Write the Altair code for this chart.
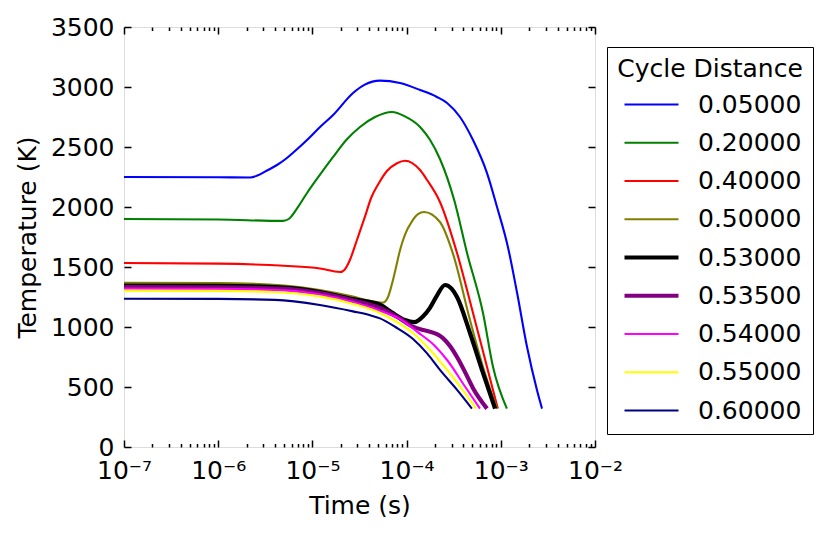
import altair as alt
import pandas as pd

FONT = "DejaVu Sans"

labels = ["0.05000", "0.20000", "0.40000", "0.50000", "0.53000",
          "0.53500", "0.54000", "0.55000", "0.60000"]
colors = ["#0000ff", "#008000", "#ff0000", "#808000", "#000000",
          "#800080", "#ff00ff", "#ffff00", "#000080"]
widths = [2.1, 2.1, 2.1, 2.1, 4.2, 4.2, 2.1, 2.1, 2.1]

# 0.05000
t_a = [1.0e-7, 1.0e-6, 2.2e-6, 2.6e-6, 3.14e-6, 4.21e-6, 5.2e-6, 6.4e-6, 8.77e-6,
       1.205e-5, 1.66e-5, 2.7e-5, 3.6e-5, 5.22e-5, 8.5e-5, 1.39e-4, 2.1e-4, 2.69e-4,
       3.69e-4, 5.07e-4, 7.14e-4, 9.12e-4, 1.19e-3, 1.49e-3, 1.90e-3, 2.42e-3, 2.74e-3]
T_a = [2250, 2248, 2246, 2262, 2295, 2350, 2400, 2460, 2558,
       2667, 2767, 2950, 3020, 3053, 3033, 2975, 2917, 2867,
       2750, 2558, 2283, 2000, 1667, 1283, 833, 475, 320]
# 0.20000
t_b = [1.0e-7, 1.0e-6, 4.88e-6, 5.6e-6, 6.9e-6, 8.77e-6, 1.205e-5, 1.66e-5, 2.3e-5,
       3.2e-5, 4.62e-5, 7.0e-5, 9.6e-5, 1.39e-4, 1.77e-4, 2.26e-4, 3.2e-4, 4.38e-4,
       6.47e-4, 8.26e-4, 1.16e-3]
T_b = [1900, 1896, 1884, 1900, 1990, 2117, 2270, 2417, 2560,
       2667, 2750, 2792, 2755, 2667, 2560, 2400, 2058, 1617,
       1117, 669, 320]
# 0.40000
t_c = [1.0e-7, 1.0e-6, 5.0e-6, 1.2e-5, 1.96e-5, 2.2e-5, 2.5e-5, 2.97e-5, 3.6e-5,
       4.2e-5, 5.0e-5, 6.19e-5, 7.9e-5, 9.6e-5, 1.39e-4, 1.65e-4, 2.26e-4, 3.43e-4,
       5.07e-4, 7.14e-4, 9.3e-4]
T_c = [1533, 1528, 1510, 1488, 1458, 1478, 1558, 1725, 1915,
       2075, 2190, 2300, 2365, 2386, 2308, 2225, 2042, 1617,
       1117, 667, 320]
# 0.50000
t_d = [1.0e-7, 1.0e-6, 5.0e-6, 1.2e-5, 2.7e-5, 4.1e-5, 5.6e-5, 6.35e-5, 7.0e-5,
       7.73e-5, 8.51e-5, 9.62e-5, 1.14e-4, 1.32e-4, 1.53e-4, 2.26e-4, 3.11e-4, 4.71e-4,
       6.47e-4, 9.12e-4]
T_d = [1369, 1367, 1345, 1308, 1253, 1218, 1203, 1250, 1360,
       1500, 1640, 1770, 1880, 1940, 1958, 1875, 1610, 1058,
       667, 320]
# 0.53000
t_e = [1.0e-7, 1.0e-6, 5.0e-6, 1.2e-5, 2.7e-5, 5.22e-5, 7.0e-5, 9.6e-5, 1.2e-4,
       1.5e-4, 1.77e-4, 2.1e-4, 2.56e-4, 3.0e-4, 3.43e-4, 4.71e-4, 6.47e-4, 8.7e-4]
T_e = [1345, 1343, 1328, 1292, 1232, 1185, 1120, 1058, 1040,
       1090, 1160, 1262, 1350, 1320, 1250, 950, 617, 320]
# 0.53500
t_f = [1.0e-7, 1.0e-6, 5.0e-6, 1.2e-5, 2.7e-5, 5.22e-5, 8.5e-5, 1.17e-4, 1.5e-4,
       1.77e-4, 2.1e-4, 2.43e-4, 2.9e-4, 3.43e-4, 4.2e-4, 5.07e-4, 7.14e-4]
T_f = [1333, 1331, 1318, 1283, 1222, 1158, 1070, 1003, 975,
       961, 940, 908, 840, 750, 620, 490, 320]
# 0.54000
t_g = [1.0e-7, 1.0e-6, 5.0e-6, 1.2e-5, 2.7e-5, 5.22e-5, 8.8e-5, 1.29e-4, 1.95e-4,
       2.69e-4, 4.2e-4, 6.0e-4]
T_g = [1320, 1318, 1305, 1270, 1208, 1136, 1060, 961, 850,
       725, 500, 320]
# 0.55000
t_h = [1.0e-7, 1.0e-6, 5.0e-6, 1.2e-5, 2.7e-5, 5.22e-5, 7.6e-5, 1.17e-4, 1.77e-4,
       2.69e-4, 3.9e-4, 5.46e-4]
T_h = [1303, 1301, 1288, 1255, 1192, 1117, 1050, 950, 810,
       642, 480, 320]
# 0.60000
t_i = [1.0e-7, 1.0e-6, 4.0e-6, 1.2e-5, 2.7e-5, 4.1e-5, 5.22e-5, 7.6e-5, 1.17e-4,
       1.65e-4, 2.26e-4, 3.4e-4, 4.94e-4]
T_i = [1236, 1234, 1226, 1183, 1130, 1098, 1072, 1000, 900,
       780, 642, 480, 320]

x_major = [1e-7, 1e-6, 1e-5, 1e-4, 1e-3, 1e-2]
x_minor = [k * 10.0 ** e for e in range(-7, -2) for k in range(2, 10)]
y_ticks = [0, 500, 1000, 1500, 2000, 2500, 3000, 3500]

series = [t_a, t_b, t_c, t_d, t_e, t_f, t_g, t_h, t_i]
temps = [T_a, T_b, T_c, T_d, T_e, T_f, T_g, T_h, T_i]

rows = []
for lab, ts, Ts in zip(labels, series, temps):
    for t, T in zip(ts, Ts):
        rows.append({"dist": lab, "time": t, "temp": T})
df = pd.DataFrame(rows)

W, H = 471, 420
MAJ = 7
MIN = 3.5
xscale = alt.Scale(type="log", domain=[1e-7, 1e-2], nice=False)
yscale = alt.Scale(domain=[0, 3500], nice=False)

label_expr = ("['10\u207b\u2077','10\u207b\u2076','10\u207b\u2075','10\u207b\u2074',"
              "'10\u207b\u00b3','10\u207b\u00b2'][round(log(datum.value)/LN10)+7]")

# inward ticks on both opposite edges are drawn as dashed grid lines
main_x = alt.Axis(orient="bottom", values=x_major, labelExpr=label_expr, ticks=False,
                  tickSize=0, domain=False, grid=True, gridColor="black", gridWidth=1.5,
                  gridOpacity=1, gridDash=[MAJ, H - 2 * MAJ],
                  labelFont=FONT, labelFontSize=25,
                  labelColor="black", labelPadding=31, labelBaseline="alphabetic",
                  labelFlush=False, labelOverlap=False,
                  title="Time (s)", titleFont=FONT, titleFontSize=25,
                  titleFontWeight="normal", titleColor="black",
                  titleY=66, titleBaseline="alphabetic")
main_y = alt.Axis(values=y_ticks, format="d", ticks=False, tickSize=0, domain=False,
                  grid=True, gridColor="black", gridWidth=1.5, gridOpacity=1,
                  gridDash=[MAJ, W - 2 * MAJ],
                  labelFont=FONT, labelFontSize=25, labelColor="black", labelPadding=10,
                  labelFlush=False, labelOverlap=False,
                  title="Temperature (K)", titleFont=FONT, titleFontSize=25,
                  titleFontWeight="normal", titleColor="black",
                  titleX=-89, titleY=H / 2, titleAngle=270, titleAlign="center",
                  titleBaseline="alphabetic")

legend = alt.Legend(title="Cycle Distance", orient="none", legendX=483, legendY=20,
                    strokeColor="black", padding=10, fillColor="white",
                    titleFont=FONT, titleFontSize=25, titleFontWeight="normal",
                    titleColor="black", titleAnchor="middle", titlePadding=10,
                    titleLimit=400, labelLimit=400,
                    labelFont=FONT, labelFontSize=25, labelColor="black",
                    symbolType="stroke", symbolSize=2916, symbolOffset=3,
                    labelOffset=17, clipHeight=25, rowPadding=12.25)

lines = alt.Chart(df).mark_line(interpolate="monotone").encode(
    x=alt.X("time:Q", scale=xscale, axis=main_x),
    y=alt.Y("temp:Q", scale=yscale, axis=main_y),
    color=alt.Color("dist:N", scale=alt.Scale(domain=labels, range=colors), legend=legend),
    strokeWidth=alt.StrokeWidth("dist:N",
                                scale=alt.Scale(type="ordinal", domain=labels, range=widths),
                                legend=legend),
    detail="dist:N",
)

minor_axis = alt.Axis(orient="top", values=x_minor, labels=False, ticks=False,
                      domain=False, grid=True, gridColor="black", gridWidth=1.5,
                      gridOpacity=1, gridDash=[MIN, H - 2 * MIN], title="")
minor = alt.Chart(df).mark_point(opacity=0).encode(
    x=alt.X("time:Q", scale=xscale, axis=minor_axis, title=""),
)

chart = alt.layer(lines, minor).resolve_axis(
    x="independent"
).properties(
    width=W, height=H,
    autosize=alt.AutoSizeParams(type="none"),
    padding={"left": 116, "top": 19, "right": 220, "bottom": 70},
).configure_view(stroke="black", strokeWidth=2).configure(font=FONT)

chart.save("out.html", embed_options={"renderer": "svg", "actions": False})
